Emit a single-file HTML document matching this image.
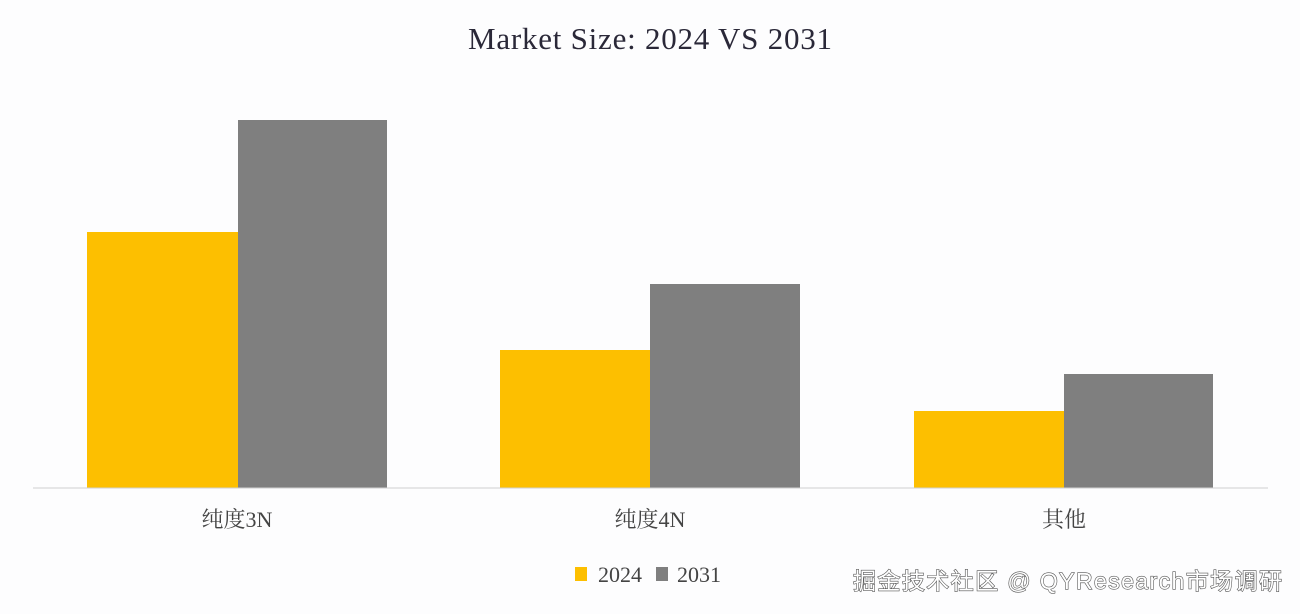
<!DOCTYPE html>
<html><head><meta charset="utf-8"><style>
html,body{margin:0;padding:0;background:#fdfdfe;}
svg{display:block}
</style></head><body>
<svg width="1300" height="614" xmlns="http://www.w3.org/2000/svg">
<rect width="1300" height="614" fill="#fdfdfe"/>
<text x="650" y="49" text-anchor="middle" font-family="Liberation Serif, serif" font-size="31" fill="#2a2838" textLength="364">Market Size: 2024 VS 2031</text>
<rect x="87" y="232" width="151" height="256" fill="#fdbf00"/>
<rect x="238" y="120" width="149" height="368" fill="#7f7f7f"/>
<rect x="500" y="350" width="150" height="138" fill="#fdbf00"/>
<rect x="650" y="284" width="150" height="204" fill="#7f7f7f"/>
<rect x="914" y="411" width="150" height="77" fill="#fdbf00"/>
<rect x="1064" y="374" width="149" height="114" fill="#7f7f7f"/>
<line x1="33" y1="488" x2="1268" y2="488" stroke="#d0d0d0" stroke-width="1"/>
<g font-family="Liberation Serif, 'Noto Serif CJK SC', serif" font-size="22" fill="#444" text-anchor="middle">
<text x="237" y="527">纯度3N</text>
<text x="650" y="527">纯度4N</text>
<text x="1064" y="527">其他</text>
</g>
<rect x="575" y="567" width="12" height="14" fill="#fdbf00"/>
<text x="598" y="582" font-family="Liberation Serif, serif" font-size="22" fill="#444">2024</text>
<rect x="656" y="567" width="12" height="14" fill="#7f7f7f"/>
<text x="677" y="582" font-family="Liberation Serif, serif" font-size="22" fill="#444">2031</text>
<text x="1282" y="589" text-anchor="end" font-family="Liberation Sans, 'Noto Sans CJK SC', sans-serif" font-size="23" fill="#fff" stroke="#555" stroke-width="1.2" paint-order="stroke" textLength="429">掘金技术社区 @ QYResearch市场调研</text>
</svg>
</body></html>
